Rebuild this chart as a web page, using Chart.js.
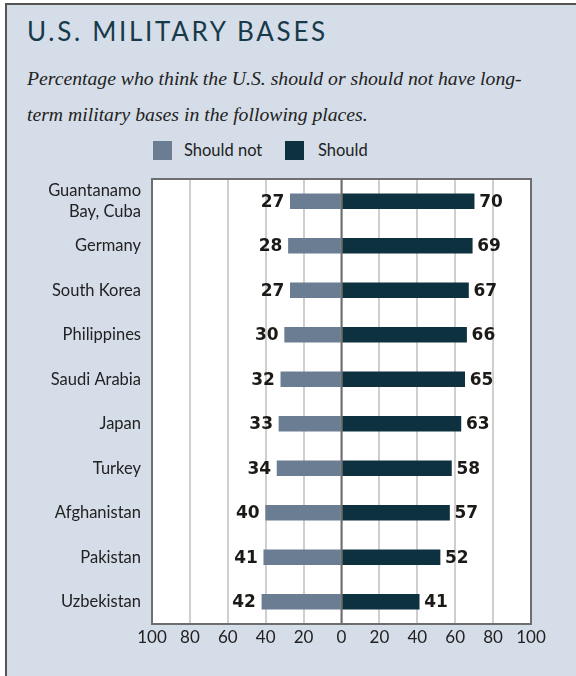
<!DOCTYPE html>
<html>
<head>
<meta charset="utf-8">
<script src="https://cdn.jsdelivr.net/npm/chart.js@4.4.0/dist/chart.umd.min.js"></script>
<style>
  html, body { margin: 0; padding: 0; background: #ffffff; }
  body { width: 576px; height: 676px; position: relative; overflow: hidden; }
  #frame { position: absolute; left: 5px; top: 3px; width: 620px; height: 720px;
           background: #d5dde8; border-top: 2px solid #555; border-left: 2px solid #555; }
  #title { position: absolute; left: 27px; top: 18px; font-family: Lato, sans-serif; font-size: 26px;
           letter-spacing: 2.7px; color: #173a4b; white-space: nowrap; line-height: 1; }
  .sub { position: absolute; left: 27px; font-family: "Liberation Serif", serif; font-style: italic;
         font-size: 19.7px; color: #222; white-space: nowrap; line-height: 1; }
  .legbox { position: absolute; top: 141px; width: 19px; height: 19px; }
  .legtxt { position: absolute; top: 140px; font-family: Lato, sans-serif; font-size: 16.5px; color: #222; line-height: 20px; white-space: nowrap; }
  #c { position: absolute; left: 0; top: 0; }
</style>
</head>
<body>
<div id="frame"></div>
<div id="title">U.S. MILITARY BASES</div>
<div class="sub" style="top:69px">Percentage who think the U.S. should or should not have long-</div>
<div class="sub" style="top:105px">term military bases in the following places.</div>
<div class="legbox" style="left:153px;background:#6a7d92"></div>
<div class="legtxt" style="left:184px">Should not</div>
<div class="legbox" style="left:285px;background:#0e3140"></div>
<div class="legtxt" style="left:318px">Should</div>
<canvas id="c" width="576" height="676"></canvas>
<script>
const categories = [["Guantanamo", "Bay, Cuba"], "Germany", "South Korea", "Philippines", "Saudi Arabia", "Japan", "Turkey", "Afghanistan", "Pakistan", "Uzbekistan"];
const shouldNot = [27, 28, 27, 30, 32, 33, 34, 40, 41, 42];
const should = [70, 69, 67, 66, 65, 63, 58, 57, 52, 41];
const seriesNames = ["Should not", "Should"];
const xTicks = [-100, -80, -60, -40, -20, 0, 20, 40, 60, 80, 100];

const plotFrame = {
  id: 'plotFrame',
  beforeDraw(chart) {
    const a = chart.chartArea, ctx = chart.ctx;
    ctx.save();
    ctx.fillStyle = '#ffffff';
    ctx.fillRect(a.left, a.top, a.right - a.left, a.bottom - a.top);
    ctx.restore();
  },
  afterDatasetsDraw(chart) {
    const a = chart.chartArea, ctx = chart.ctx;
    ctx.save();
    const x0 = chart.scales.x.getPixelForValue(0);
    ctx.strokeStyle = '#6e6e6e';
    ctx.lineWidth = 2;
    ctx.beginPath(); ctx.moveTo(x0, a.top); ctx.lineTo(x0, a.bottom); ctx.stroke();
    ctx.strokeRect(a.left, a.top, a.right - a.left, a.bottom - a.top);
    ctx.font = 'bold 17px "DejaVu Sans", sans-serif';
    ctx.fillStyle = '#1c1a17';
    ctx.textBaseline = 'middle';
    chart.getDatasetMeta(0).data.forEach((bar, i) => {
      ctx.textAlign = 'right';
      ctx.fillText(String(shouldNot[i]), bar.x - 6, bar.y + 1);
    });
    chart.getDatasetMeta(1).data.forEach((bar, i) => {
      ctx.textAlign = 'left';
      ctx.fillText(String(should[i]), bar.x + 5, bar.y + 1);
    });
    ctx.restore();
  }
};

new Chart(document.getElementById('c'), {
  type: 'bar',
  data: {
    labels: categories,
    datasets: [
      { label: seriesNames[0], data: shouldNot.map(v => -v), backgroundColor: '#6a7d92', barThickness: 15 },
      { label: seriesNames[1], data: should, backgroundColor: '#0e3140', barThickness: 15 }
    ]
  },
  options: {
    indexAxis: 'y',
    responsive: false,
    animation: false,
    layout: { padding: { top: 179, right: 45, left: 0, bottom: 0 } },
    plugins: { legend: { display: false }, tooltip: { enabled: false } },
    scales: {
      x: {
        stacked: true, min: -100, max: 100,
        afterBuildTicks: s => { s.ticks = xTicks.map(v => ({ value: v })); },
        ticks: { callback: v => Math.abs(v), font: { family: 'Lato, sans-serif', size: 17 }, color: '#222', padding: 3, maxRotation: 0, autoSkip: false },
        grid: { color: '#cfcfcf', lineWidth: 2, drawTicks: false },
        border: { display: false },
        afterFit: s => { s.height = 52; }
      },
      y: {
        stacked: true,
        grid: { display: false, drawTicks: false },
        border: { display: false },
        ticks: { autoSkip: false, font: { family: 'Lato, sans-serif', size: 16.5, lineHeight: 1.3 }, color: '#222', padding: 11 },
        afterFit: s => { s.width = 152; }
      }
    }
  },
  plugins: [plotFrame]
});
</script>
</body>
</html>
